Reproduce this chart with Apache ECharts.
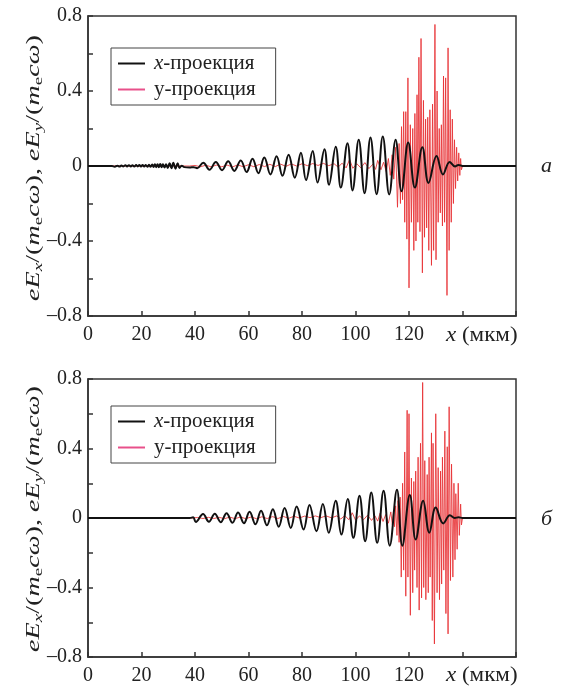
<!DOCTYPE html>
<html>
<head>
<meta charset="utf-8">
<script src="https://cdn.jsdelivr.net/npm/echarts@6.0.0/dist/echarts.min.js"></script>
<style>
  html, body { margin: 0; padding: 0; background: #fff; }
  #main { width: 563px; height: 686px; }
</style>
</head>
<body>
<div id="main"></div>
<script>
// подписи осей
var xLabels = ['0', '20', '40', '60', '80', '100', '120', '', ''];
var yLabels = ['\u20130.8', '', '\u20130.4', '', '0', '', '0.4', '', '0.8'];
var seriesNames = ['x-проекция', 'у-проекция'];

// панель а: x-проекция (экстремумы)
var topXProj = [
  [0,0],[9,0],[10,-0.004],[11,0.002],[11.8,-0.003],[12.5,0.003],[13.2,-0.002],[14,0.004],[14.6,-0.002],
  [15.3,0.004],[16,-0.002],[16.6,0.004],[17.3,-0.003],[18,0.005],[18.6,-0.002],[19.2,0.005],[19.8,-0.003],
  [20.4,0.006],[21,-0.003],[21.6,0.006],[22.2,-0.004],[22.8,0.007],[23.4,-0.004],[24,0.008],[24.5,-0.005],
  [25,0.009],[25.5,-0.006],[26,0.01],[26.5,-0.006],[27,0.011],[27.5,-0.007],[28,0.01],[28.6,-0.008],
  [29.2,0.009],[29.8,-0.01],[30.5,0.015],[31.2,-0.012],[31.9,0.017],[32.7,-0.014],[33.5,0.015],[34.2,-0.01],
  [35,0.002],[36,-0.006],[38,-0.008],[39.5,-0.006],[40.8,-0.012],
  [43.1,0.018],[45.4,-0.02],[47.8,0.021],[50.1,-0.022],[52.4,0.025],[54.7,-0.026],[57.1,0.03],[59.3,-0.032],
  [61.5,0.039],[63.7,-0.038],[65.9,0.045],[68.2,-0.045],[70.5,0.052],[72.7,-0.052],[75,0.06],[77.3,-0.062],
  [79.6,0.071],[81.5,-0.075],[84,0.08],[85.8,-0.088],[88.4,0.09],[90.1,-0.1],[92.6,0.103],[94.5,-0.115],
  [97,0.122],[98.9,-0.13],[101.2,0.14],[103.4,-0.145],[105.6,0.152],[107.9,-0.15],[110.2,0.157],[112.6,-0.152],
  [115,0.14],[117.2,-0.135],[119.7,0.125],[122.2,-0.115],[125,0.1],[127.3,-0.09],[130.3,0.053],[132.7,-0.045],
  [135.2,0.022],[137.2,-0.002],[138.5,0.006],[140,0],[160,0]
];
// панель а: y-проекция
var topYProj = [
  [0,0],[38,0],[40,0.003],[42,-0.004],[44,0.004],[46,-0.004],[48,0.005],[50,-0.004],[52,0.005],[54,-0.005],
  [56,0.006],[58,-0.004],[60,0.007],[62,-0.004],[64,0.008],[66,-0.003],[68,0.009],[70,-0.003],[72,0.01],
  [74,-0.002],[76,0.011],[78,0],[80,0.012],[82,0.002],[84,0.013],[86,0.003],[88,0.014],[90,0.002],[92,0.012],
  [93.5,-0.006],[95,0.015],[96.5,-0.01],[97.8,0.035],[99,-0.012],[100.5,0.012],[102,-0.01],[103.5,0.018],
  [105,-0.014],[106.5,0.01],[107.5,-0.018],[108.3,0.03],[109.5,-0.02],[110.5,0.02],[111.5,-0.03],[112.3,0.04],
  [113,-0.05],[113.7,0.06],[114.3,-0.07],[115,0.1],[115.7,-0.22],[116.3,0.12],[116.8,-0.2],[117.2,0.21],
  [117.6,-0.18],[118,0.29],[118.4,-0.3],[118.8,0.29],[119.2,-0.39],[119.6,0.47],[120,-0.65],[120.5,0.22],
  [120.9,-0.3],[121.4,0.2],[121.8,-0.45],[122.2,0.28],[122.6,-0.4],[123,0.38],[123.3,-0.3],[123.7,0.58],
  [124.1,-0.35],[124.5,0.68],[125,-0.57],[125.4,0.35],[125.8,-0.38],[126.2,0.25],[126.6,-0.33],[127,0.26],
  [127.4,-0.45],[127.8,0.3],[128.4,-0.53],[128.8,0.33],[129.2,-0.45],[129.7,0.755],[130.1,-0.5],[130.5,0.4],
  [130.9,-0.3],[131.3,0.2],[131.7,-0.25],[132.1,0.22],[132.5,-0.32],[132.9,0.48],[133.3,-0.3],[133.7,0.47],
  [134.2,-0.69],[134.6,0.63],[135,-0.45],[135.4,0.3],[135.8,-0.3],[136.2,0.25],[136.6,-0.2],[137,0.14],
  [137.4,-0.12],[137.8,0.1],[138.2,-0.08],[138.6,0.07],[139,-0.05],[139.3,0.04],[139.6,-0.02],[140,0]
];

// панель б: x-проекция
var botXProj = [
  [0,0],[38,0],[39.3,0.004],[40.3,-0.023],[43,0.023],[45.2,-0.022],[47.4,0.025],[49.6,-0.024],[51.8,0.028],
  [54,-0.027],[56.1,0.032],[58.3,-0.03],[60.4,0.036],[62.6,-0.036],[64.7,0.042],[66.9,-0.042],[69.1,0.05],
  [71.3,-0.05],[73.5,0.058],[75.8,-0.057],[78,0.066],[80.6,-0.066],[82.8,0.075],[85.4,-0.076],[87.8,0.08],
  [90,-0.085],[92.6,0.1],[94.7,-0.095],[97.1,0.11],[99.2,-0.114],[101.5,0.128],[103.6,-0.134],[105.9,0.147],
  [108.1,-0.143],[110.5,0.157],[112.8,-0.159],[115.5,0.163],[117.5,-0.159],[120.3,0.132],[122.5,-0.124],
  [125.3,0.1],[127.6,-0.085],[130,0.06],[132.8,-0.031],[135.3,0.016],[137.1,0],[138.5,0.004],[140,0],[160,0]
];
// панель б: y-проекция
var botYProj = [
  [0,0],[39,0],[41,0.003],[43,-0.003],[45,0.004],[47,-0.003],[49,0.004],[51,-0.004],[53,0.005],[55,-0.004],
  [57,0.006],[59,-0.004],[61,0.006],[63,-0.004],[65,0.007],[67,-0.003],[69,0.008],[71,-0.003],[73,0.009],
  [75,-0.002],[77,0.01],[79,0],[81,0.011],[83,0.002],[85,0.012],[87,0.002],[89,0.012],[91,0.001],[93,0.012],
  [94.5,-0.006],[96,0.014],[97.5,-0.01],[98.8,0.03],[100,-0.012],[101.5,0.012],[103,-0.01],[104.5,0.016],
  [106,-0.014],[107.3,0.012],[108.3,-0.018],[109.2,0.028],[110.3,-0.02],[111.3,0.02],[112.3,-0.03],
  [113.2,0.035],[113.8,-0.04],[114.2,0.04],[114.6,-0.05],[115,0.07],[115.5,-0.1],[115.9,0.1],[116.3,-0.14],
  [116.7,0.12],[117.1,-0.34],[117.6,0.2],[118,-0.3],[118.4,0.38],[118.8,-0.45],[119.3,0.62],[119.6,-0.34],
  [120,0.6],[120.5,-0.56],[120.9,0.23],[121.4,-0.43],[121.8,0.21],[122.1,-0.3],[122.5,0.27],[123,-0.4],
  [123.4,0.35],[123.8,-0.53],[124.3,0.43],[124.7,-0.46],[125.1,0.78],[125.5,-0.4],[125.9,0.33],[126.3,-0.47],
  [126.8,0.25],[127.2,-0.43],[127.5,0.35],[127.9,-0.34],[128.4,0.49],[128.7,-0.59],[129,0.43],[129.5,-0.725],
  [130,0.6],[130.5,-0.43],[130.9,0.29],[131.4,-0.47],[131.8,0.27],[132.2,-0.38],[132.5,0.35],[133,-0.3],
  [133.4,0.5],[133.8,-0.55],[134.3,0.41],[134.6,-0.667],[135,0.64],[135.5,-0.36],[135.9,0.31],[136.4,-0.34],
  [136.8,0.2],[137.2,-0.24],[137.5,0.14],[138,-0.18],[138.4,0.2],[138.8,-0.1],[139.3,0.08],[139.6,-0.04],[140,0]
];

var serif = '"Liberation Serif", "DejaVu Serif", serif';
var red = 'rgba(232,48,52,0.85)';
var pink = '#e8508a';
var ink = '#222';

// подпись оси y: курсив и нижние индексы (rich-текст)
var titleRich = {
  i: { fontFamily: serif, fontSize: 19, fontStyle: 'italic', fill: ink, lineHeight: 21, verticalAlign: 'top' },
  n: { fontFamily: serif, fontSize: 19, fill: ink, lineHeight: 21, verticalAlign: 'top' },
  s: { fontFamily: serif, fontSize: 13, fontStyle: 'italic', fill: ink, lineHeight: 21, verticalAlign: 'bottom' },
  u: { fontFamily: serif, fontSize: 13, fill: ink, lineHeight: 21, verticalAlign: 'bottom' }
};
var yTitle = '{i|eE}{s|x}{n|/(}{i|m}{u|e}{i|cω}{n|), }{i|eE}{s|y}{n|/(}{i|m}{u|e}{i|cω}{n|)}';
var unitRich = {
  i: { fontFamily: serif, fontSize: 20, fontStyle: 'italic', fill: ink },
  n: { fontFamily: serif, fontSize: 20, fill: ink }
};

function makeX(gridIndex) {
  return {
    type: 'value', gridIndex: gridIndex, min: 0, max: 160, interval: 20,
    axisLine: { show: true, onZero: false, lineStyle: { color: '#333', width: 1.5 } },
    axisTick: { show: true, inside: true, length: 5, lineStyle: { color: '#333', width: 1.5 } },
    splitLine: { show: false },
    axisLabel: {
      margin: 9, fontFamily: serif, fontSize: 20, color: ink,
      formatter: function (v, idx) { return xLabels[idx] || ''; }
    }
  };
}
function makeY(gridIndex) {
  return {
    type: 'value', gridIndex: gridIndex, min: -0.8, max: 0.8, interval: 0.2,
    axisLine: { show: true, onZero: false, lineStyle: { color: '#333', width: 1.5 } },
    axisTick: { show: true, inside: true, length: 5, lineStyle: { color: '#333', width: 1.5 } },
    splitLine: { show: false },
    axisLabel: {
      margin: 6, fontFamily: serif, fontSize: 20, color: ink,
      formatter: function (v, idx) { return yLabels[idx] || ''; }
    }
  };
}
function makeLegend(top) {
  return {
    top: top, left: 111, orient: 'vertical',
    icon: 'rect',
    data: [
      { name: seriesNames[0], itemStyle: { color: '#111' } },
      { name: seriesNames[1], itemStyle: { color: pink } }
    ],
    borderColor: '#444', borderWidth: 1, padding: [5, 20, 5, 7],
    itemWidth: 27, itemHeight: 2, itemGap: 5,
    selectedMode: false,
    textStyle: {
      fontFamily: serif, fontSize: 21, color: ink, padding: [0, 0, 0, 4], lineHeight: 21,
      rich: { i: { fontFamily: serif, fontSize: 21, fontStyle: 'italic', color: ink, lineHeight: 21 } }
    },
    formatter: function (name) {
      if (name === seriesNames[0]) return '{i|x}-проекция';
      return name;
    }
  };
}
function lineSeries(name, idx, data, isX) {
  return {
    type: 'line', name: name, xAxisIndex: idx, yAxisIndex: idx, data: data,
    symbol: 'none', showSymbol: false, animation: false,
    smooth: isX ? 0.4 : false,
    z: isX ? 4 : 3,
    itemStyle: { color: isX ? '#111' : red },
    lineStyle: { color: isX ? '#111' : red, width: isX ? 2 : 1 }
  };
}
function yTitleText(cy) {
  return {
    type: 'text', x: 35, y: cy, rotation: Math.PI / 2, scaleX: 1.48,
    style: { text: yTitle, rich: titleRich, align: 'center', verticalAlign: 'middle' }
  };
}
function unitText(cy) {
  return {
    type: 'text', x: 446, y: cy, scaleX: 1.15,
    style: { text: '{i|x}{n| (мкм)}', rich: unitRich, verticalAlign: 'middle' }
  };
}

var chart = echarts.init(document.getElementById('main'));

chart.setOption({
  backgroundColor: '#fff',
  animation: false,
  grid: [
    { left: 88, top: 16, width: 428, height: 300, show: true, borderColor: '#333', borderWidth: 1.5, backgroundColor: 'transparent' },
    { left: 88, top: 379, width: 428, height: 279, show: true, borderColor: '#333', borderWidth: 1.5, backgroundColor: 'transparent' }
  ],
  xAxis: [makeX(0), makeX(1)],
  yAxis: [makeY(0), makeY(1)],
  legend: [makeLegend(48), makeLegend(406)],
  series: [
    lineSeries(seriesNames[1], 0, topYProj, false),
    lineSeries(seriesNames[0], 0, topXProj, true),
    lineSeries(seriesNames[1], 1, botYProj, false),
    lineSeries(seriesNames[0], 1, botXProj, true)
  ],
  graphic: [
    yTitleText(168),
    yTitleText(519),
    unitText(336),
    unitText(676),
    { type: 'text', x: 541, y: 166, style: { text: 'а', font: 'italic 22px ' + serif, fill: ink, verticalAlign: 'middle' } },
    { type: 'text', x: 541, y: 519, style: { text: 'б', font: 'italic 22px ' + serif, fill: ink, verticalAlign: 'middle' } }
  ]
});
</script>
</body>
</html>
